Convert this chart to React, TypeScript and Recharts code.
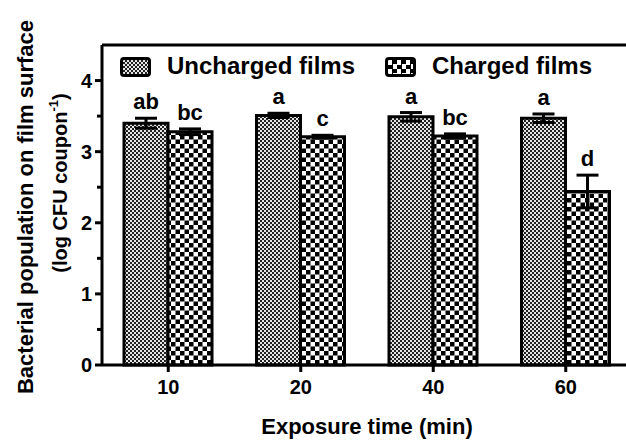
import { BarChart, Bar, XAxis, YAxis, ErrorBar, LabelList, ReferenceLine } from 'recharts'

// ── Data ─────────────────────────────────────────────────
const times = ['10', '20', '40', '60']
const uncharged = [3.4, 3.51, 3.49, 3.47]
const unchargedErr = [0.07, 0.03, 0.06, 0.06]
const charged = [3.28, 3.21, 3.22, 2.44]
const chargedErr = [0.04, 0.02, 0.03, 0.23]
const unchargedLetters = ['ab', 'a', 'a', 'a']
const chargedLetters = ['bc', 'c', 'bc', 'd']
const yTicks = [0, 0.5, 1, 1.5, 2, 2.5, 3, 3.5, 4]

const data = times.map((t, i) => ({
  time: t,
  uncharged: uncharged[i],
  uErr: unchargedErr[i],
  uLet: unchargedLetters[i],
  charged: charged[i],
  cErr: chargedErr[i],
  cLet: chargedLetters[i],
}))

const FONT = '"Liberation Sans", Arial, Helvetica, sans-serif'

// letter above the error bar; px/unit derived from bar height
function letterLabel(vals: number[], errs: number[]) {
  return (props: any) => {
    const { x, y, width, height, value, index } = props
    const v = vals[index]
    const pxPerUnit = height / v
    const top = y - errs[index] * pxPerUnit
    return (
      <text
        x={x + width / 2}
        y={top - 9}
        textAnchor="middle"
        fontFamily={FONT}
        fontWeight="bold"
        fontSize={22}
        fill="#000"
      >
        {value}
      </text>
    )
  }
}

function YTick(props: any) {
  const { x, y, payload } = props
  const major = Number.isInteger(payload.value)
  return (
    <g>
      <line x1={x - (major ? 7 : 5)} x2={x} y1={y} y2={y} stroke="#000" strokeWidth={3} />
      {major && (
        <text
          x={x - 10}
          y={y}
          dy="0.36em"
          textAnchor="end"
          fontFamily={FONT}
          fontWeight="bold"
          fontSize={20}
          fill="#000"
        >
          {payload.value}
        </text>
      )}
    </g>
  )
}

function XTick(props: any) {
  const { x, y, payload } = props
  return (
    <g>
      <line x1={x} x2={x} y1={y} y2={y + 7} stroke="#000" strokeWidth={3} />
      <text
        x={x}
        y={y + 29}
        textAnchor="middle"
        fontFamily={FONT}
        fontWeight="bold"
        fontSize={20}
        fill="#000"
      >
        {payload.value}
      </text>
    </g>
  )
}

const fineCheck = {
  backgroundColor: '#e6e6e6',
  backgroundImage: 'repeating-conic-gradient(#222 0 25%, #e6e6e6 0 50%)',
  backgroundSize: '4px 4px',
}
const coarseCheck = {
  backgroundColor: '#fff',
  backgroundImage: 'repeating-conic-gradient(#000 0 25%, #fff 0 50%)',
  backgroundSize: '9px 9px',
}

function Swatch({ style, left }: { style: React.CSSProperties; left: number }) {
  return (
    <div
      style={{
        position: 'absolute',
        left,
        top: 57,
        width: 25,
        height: 14,
        border: '3px solid #000',
        borderRadius: 4,
        ...style,
      }}
    />
  )
}

const legendText: React.CSSProperties = {
  position: 'absolute',
  top: 52,
  fontFamily: FONT,
  fontWeight: 'bold',
  fontSize: 24,
  lineHeight: '28px',
  color: '#000',
  whiteSpace: 'nowrap',
}

export default function App() {
  return (
    <div style={{ position: 'absolute', left: 0, top: 0, width: 626, height: 446, overflow: 'hidden', background: '#fff' }}>
      <BarChart
        width={640}
        height={446}
        data={data}
        margin={{ top: 45, right: 8, bottom: 0, left: 0 }}
        barGap={0}
        barSize={44}
      >
        <defs>
          <pattern id="fine" width={4} height={4} patternUnits="userSpaceOnUse">
            <rect width={4} height={4} fill="#e6e6e6" />
            <rect width={2} height={2} fill="#222" />
            <rect x={2} y={2} width={2} height={2} fill="#222" />
          </pattern>
          <pattern id="coarse" width={9} height={9} patternUnits="userSpaceOnUse">
            <rect width={9} height={9} fill="#fff" />
            <rect width={4.5} height={4.5} fill="#000" />
            <rect x={4.5} y={4.5} width={4.5} height={4.5} fill="#000" />
          </pattern>
        </defs>
        <XAxis
          dataKey="time"
          height={81}
          tickSize={0}
          tickMargin={0}
          tick={<XTick />}
          tickLine={false}
          axisLine={{ stroke: '#000', strokeWidth: 3 }}
          label={{
            value: 'Exposure time (min)',
            position: 'insideBottom',
            offset: 12,
            style: { fontFamily: FONT, fontWeight: 'bold', fontSize: 22, fill: '#000' },
          }}
        />
        <YAxis
          width={102}
          domain={[0, 4.5]}
          ticks={yTicks}
          interval={0}
          tickSize={0}
          tickMargin={0}
          tick={<YTick />}
          tickLine={false}
          axisLine={{ stroke: '#000', strokeWidth: 3 }}
          label={(p: any) => {
            const vb = p.viewBox
            const cy = vb.y + vb.height / 2
            return (
              <g fontFamily={FONT} fontWeight="bold" fill="#000">
                <text
                  x={25}
                  y={cy + 2}
                  transform={`rotate(-90 25 ${cy + 2})`}
                  textAnchor="middle"
                  dominantBaseline="central"
                  fontSize={22}
                >
                  Bacterial population on film surface
                </text>
                <text
                  x={60}
                  y={cy - 22}
                  transform={`rotate(-90 60 ${cy - 22})`}
                  textAnchor="middle"
                  dominantBaseline="central"
                  fontSize={20}
                >
                  (log CFU coupon<tspan dy={-7} fontSize={13}>-1</tspan>
                  <tspan dy={7}>)</tspan>
                </text>
              </g>
            )
          }}
        />
        <ReferenceLine y={4.5} stroke="#000" strokeWidth={3} />
        <Bar dataKey="uncharged" fill="url(#fine)" stroke="#000" strokeWidth={3} isAnimationActive={false}>
          <ErrorBar dataKey="uErr" width={11} stroke="#000" strokeWidth={3} />
          <LabelList dataKey="uLet" content={letterLabel(uncharged, unchargedErr)} />
        </Bar>
        <Bar dataKey="charged" fill="url(#coarse)" stroke="#000" strokeWidth={3} isAnimationActive={false}>
          <ErrorBar dataKey="cErr" width={11} stroke="#000" strokeWidth={3} />
          <LabelList dataKey="cLet" content={letterLabel(charged, chargedErr)} />
        </Bar>
      </BarChart>
      <Swatch style={fineCheck} left={120} />
      <div style={{ ...legendText, left: 167 }}>Uncharged films</div>
      <Swatch style={coarseCheck} left={385} />
      <div style={{ ...legendText, left: 432 }}>Charged films</div>
    </div>
  )
}
